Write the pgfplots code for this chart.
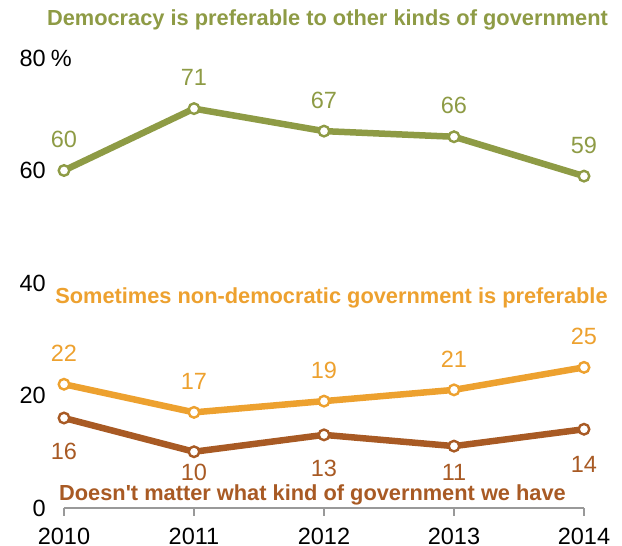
\documentclass[border=0pt]{standalone}
\usepackage{pgfplots}
\pgfplotsset{compat=1.18}
\usepackage{fontspec}
\setmainfont{Liberation Sans}
\definecolor{dem}{HTML}{8E9B45}
\definecolor{non}{HTML}{EDA12F}
\definecolor{dm}{HTML}{A85A24}
\definecolor{axgray}{HTML}{999999}
\newcommand{\numfont}{\fontsize{23.5}{27}\selectfont}
\newcommand{\titfont}{\bfseries\fontsize{21.8}{25}\selectfont}
\begin{document}
\begin{tikzpicture}
\path[use as bounding box] (-64pt,-38pt) rectangle (558pt,508pt);
\begin{axis}[
  at={(0,0)}, anchor=south west,
  scale only axis, width=520pt, height=450pt,
  xmin=2010, xmax=2014, ymin=0, ymax=80,
  clip=false,
  /pgf/number format/assume math mode=true,
  axis x line=bottom, axis y line=left,
  axis line style={-},
  y axis line style={draw=none},
  x axis line style={draw=axgray, line width=2pt},
  xtick={2010,2011,2012,2013,2014},
  xticklabels={2010,2011,2012,2013,2014},
  ytick={0,20,40,60,80},
  yticklabels={0,20,40,60,80\rlap{\hspace{5pt}\%}},
  x tick style={draw=axgray, line width=2pt},
  y tick style={draw=none},
  tick align=outside, major tick length=8pt,
  ticklabel style={font=\numfont, inner sep=0pt},
  xticklabel style={anchor=center, yshift=-20pt},
  yticklabel style={anchor=east, xshift=-10pt},
  every node near coord/.append style={font=\numfont, inner sep=0pt, anchor=center},
]
\addplot[dem, line width=6.5pt, mark=*, mark size=5.3pt,
  mark options={fill=white, draw=dem, line width=2.4pt},
  nodes near coords, nodes near coords style={yshift=31pt, text=dem}]
  coordinates {(2010,60) (2011,71) (2012,67) (2013,66) (2014,59)};
\addplot[non, line width=6.5pt, mark=*, mark size=5.3pt,
  mark options={fill=white, draw=non, line width=2.4pt},
  nodes near coords, nodes near coords style={yshift=31pt, text=non}]
  coordinates {(2010,22) (2011,17) (2012,19) (2013,21) (2014,25)};
\addplot[dm, line width=6.5pt, mark=*, mark size=5.3pt,
  mark options={fill=white, draw=dm, line width=2.4pt},
  visualization depends on={\thisrow{off}\as\off},
  nodes near coords,
  nodes near coords style={text=dm},
  every node near coord/.append style={yshift=\off pt}]
  table {
x y off
2010 16 -33
2011 10 -21
2012 13 -34
2013 11 -26
2014 14 -35
};
\end{axis}
\node[text=dem, font=\titfont, inner sep=0pt] at (263.5pt,488pt) {Democracy is preferable to other kinds of government};
\node[text=non, font=\titfont, inner sep=0pt] at (267.5pt,210pt) {Sometimes non-democratic government is preferable};
\node[text=dm, font=\titfont, inner sep=0pt] at (248.5pt,13pt) {Doesn\textquotesingle t matter what kind of government we have};
\end{tikzpicture}
\end{document}
